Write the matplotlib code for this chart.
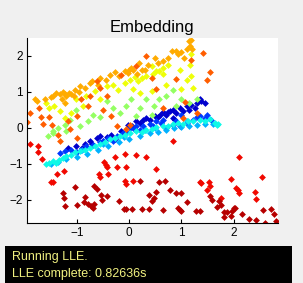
import matplotlib
matplotlib.use("Agg")
import matplotlib.pyplot as plt
from matplotlib.patches import Rectangle

# groups of points, each with one jet colour value
dark_blue_x = [-1.17, -1.02, -0.85, -0.75, -0.62, -0.56, -0.43, -0.50, -0.27, -0.15, -0.02, 0.14, 0.27, 0.33, 0.39,
               0.49, 0.59, 0.65, 0.71, 0.78, 0.84, 0.90, 0.97, 1.02, 1.10, 1.19, 1.29, 1.35, 1.38, 0.84, 0.87,
               -0.90, -0.70, -0.35, 0.05, 0.20, 0.55, 0.75, 1.15, 1.25, 1.45]
dark_blue_y = [-0.56, -0.51, -0.44, -0.37, -0.28, -0.23, -0.25, -0.37, -0.32, -0.09, 0.09, 0.19, 0.23, 0.28, 0.21,
               0.32, 0.37, 0.44, 0.37, 0.46, 0.51, 0.42, 0.56, 0.46, 0.60, 0.65, 0.69, 0.79, 0.74, 0.28, 0.23,
               -0.55, -0.45, -0.20, 0.05, 0.15, 0.30, 0.45, 0.50, 0.55, 0.70]

blue_x = [-1.32, -1.23, -1.10, -0.91, -0.82, -0.69, -0.56, -0.40, -0.24, -0.11, 0.01, 0.14, 0.27, 0.39, 0.52,
          0.65, 0.71, 0.84, 0.97, 1.10, 1.22, 1.35, 1.48, 1.57, 0.45, 0.20, -0.05, -0.30,
          -1.00, -0.50, 0.10, 0.60, 0.90, 1.30, 1.45, 1.00]
blue_y = [-0.69, -0.65, -0.60, -0.60, -0.51, -0.48, -0.40, -0.28, -0.23, -0.14, 0.00, 0.05, 0.05, 0.12, 0.19,
          0.23, 0.00, 0.09, 0.05, 0.14, 0.23, 0.32, 0.37, 0.23, 0.05, -0.05, -0.10, -0.35,
          -0.68, -0.35, -0.03, 0.15, 0.20, 0.30, 0.28, 0.35]

light_blue_x = [-1.50, -1.35, -1.20, -1.00, -0.80, -0.60, -0.40, -0.20, 0.00, 0.20, 0.40, 0.55, 0.70, 0.85, 1.00,
                1.15, 1.30, 1.45, 1.60, 1.10, 0.50, 0.30, -0.10, -0.50, -0.90]
light_blue_y = [-1.00, -0.95, -0.85, -0.80, -0.72, -0.62, -0.50, -0.40, -0.30, -0.22, -0.15, -0.12, -0.05, 0.00, 0.02,
                0.05, 0.08, 0.10, 0.12, 0.18, 0.00, -0.05, -0.25, -0.45, -0.62]

cyan_x = [-1.58, -1.52, -1.45, -1.40, -1.34, -1.26, -1.20, -1.10, -1.04, -0.94, -0.85, -0.75, -0.66, -0.56, -0.46,
          -0.37, -0.27, -0.18, -0.08, 0.01, 0.14, 0.24, 0.33, 0.43, 0.52, 0.65, 0.75, 0.84, 0.94, 1.03, 1.13,
          1.22, 1.35, 1.45, 1.54, 1.64, 1.70, 1.67]
cyan_y = [-0.99, -0.97, -0.93, -0.97, -0.88, -0.83, -0.77, -0.74, -0.68, -0.65, -0.62, -0.56, -0.51, -0.44, -0.40,
          -0.32, -0.28, -0.23, -0.19, -0.14, -0.09, -0.12, -0.05, -0.03, 0.02, 0.05, 0.06, 0.12, 0.14, 0.12, 0.19,
          0.19, 0.23, 0.19, 0.25, 0.15, 0.12, 0.09]

green_x = [-1.55, -1.45, -1.36, -1.23, -1.13, -0.94, -0.78, -0.69, -0.56, -0.43, -0.31, -0.18, -0.05, 0.04, 0.20,
           0.33, 0.47, 0.57, 0.71, 0.84, 1.00, 1.15, 1.29, -1.01, -1.20, 0.14, 0.43, 0.90, -1.46]
green_y = [-0.23, -0.14, 0.00, 0.09, 0.23, 0.05, 0.19, 0.37, 0.31, 0.74, 0.56, 0.42, 0.60, 0.79, 0.56,
           0.79, 0.60, 0.79, 0.88, 1.06, 0.79, 0.69, 0.81, 0.51, -0.09, 0.32, 0.37, 0.60, -0.09]

yellow_x = [-1.58, -1.52, -1.43, -1.32, -1.23, -1.10, -1.01, -0.88, -0.82, -0.66, -0.56, -0.43, -0.31, -0.21, -0.08,
            0.01, 0.11, 0.17, 0.24, 0.33, 0.46, 0.57, 0.65, 0.64, 0.43, 0.52, 0.75, 0.97, 1.10, 1.19, 1.16,
            1.19, 1.22, 0.08, 0.20, 0.43, 0.71, 1.00]
yellow_y = [0.69, 0.56, 0.60, 0.46, 0.28, 0.42, 0.79, 0.60, 0.88, 1.02, 0.79, 1.16, 1.20, 1.06, 1.25,
            1.34, 1.42, 1.30, 1.39, 1.45, 1.51, 1.57, 1.51, 1.67, 1.71, 1.57, 1.76, 1.62, 1.34, 1.43, 1.76,
            2.04, 1.11, 1.08, 0.97, 1.02, 1.20, 1.08]

orange_x = [-1.80, -1.76, -1.45, -1.39, -1.32, -1.27, -1.23, -1.20, -1.15, -1.10, -1.29, -1.23, -1.04, -0.94, -0.85,
            -0.74, -0.70, -0.56, -0.45, -0.37, -0.27, -0.08, -0.02, 0.04, 0.08, 0.19, 0.24, 0.36, 0.49, 0.65,
            0.81, 0.94, 1.10, 1.15, 1.19, 1.16, -1.50, -1.60, -1.05, -0.95, -0.60, -0.20, 0.00, 0.15, 0.30,
            0.55, 0.75, 1.00, 1.05, 1.20, 0.90]
orange_y = [0.81, 0.74, 0.88, 0.97, 0.93, 0.99, 0.95, 0.88, 0.97, 0.93, 0.79, 0.69, 1.06, 1.16, 1.11,
            1.25, 1.30, 1.39, 1.34, 1.48, 1.55, 1.57, 1.53, 1.67, 1.62, 1.79, 1.62, 1.76, 1.94, 1.85,
            2.13, 2.04, 2.18, 2.41, 2.45, 2.27, 0.85, 0.80, 0.90, 1.00, 1.20, 1.45, 1.60, 1.50, 1.60,
            1.80, 1.95, 2.10, 1.95, 2.20, 2.15]

red_orange_x = [-1.90, -1.95, -1.72, -1.68, -1.64, -1.52, -1.47, -1.36, -1.31, -1.17, -1.12, -1.00, -0.99, -0.91,
                -0.78, -0.75, -0.62, -0.56, -0.50, -0.43, -0.24, -0.34, -0.15, -0.06, 0.01, 0.14, 0.33, 0.43,
                0.52, 0.65, 0.90, 1.02, 1.06, 1.19, 1.29, 1.41, 1.48, 1.54]
red_orange_y = [0.42, 0.16, 0.56, 0.31, 0.12, 0.31, 0.09, -0.19, -0.37, 0.19, -0.03, 0.32, -0.28, 0.79,
                0.62, 0.88, 1.30, 1.11, 0.51, 0.88, 0.05, 0.32, 1.48, -0.03, 0.09, 1.71, 1.99, 1.39,
                1.08, 0.56, 1.36, 0.28, 0.71, 1.90, 0.42, 2.08, 1.34, 1.55]

red_x = [-1.90, -1.73, -1.73, -1.66, -1.37, -1.25, -0.48, -0.44, -0.42, -0.27, -0.07, 0.14, 0.33, 0.84, 2.10,
         -0.57, -0.56, -0.40, -0.24, -0.06, -0.08, -0.05, 0.08, 0.52, 1.35, 1.38, 1.53, 1.54, 2.53, 2.05,
         2.08, 2.10, 1.94, 2.40, 2.42, 1.48, 1.75, -1.50, -1.45]
red_y = [-0.44, -0.51, -0.67, -0.86, -1.29, -1.19, -0.95, -1.03, -1.08, -0.82, -0.73, -0.74, -0.81, -0.37, -0.81,
         -1.28, -1.36, -1.27, -1.08, -1.09, -1.48, -1.55, -1.48, -1.14, -1.51, -1.53, -1.51, -1.60, -1.36, -1.67,
         -1.73, -1.81, -1.42, -1.79, -1.98, -1.71, -1.94, -1.51, -1.51]

dark_red_x = [-1.27, -1.25, -1.23, -1.04, -0.99, -0.85, -0.86, -0.78, -0.72, -0.69, -0.67, -0.67, -0.62, -0.53,
              -0.51, -0.43, -0.19, -0.10, -0.06, 0.06, 0.20, 0.25, 0.38, 0.38, 0.43, 0.47, 0.52, 0.57, 0.64,
              0.68, 0.78, 0.89, 0.94, 0.97, 1.00, 1.00, 1.11, 1.27, 1.35, 1.54, 1.59, 1.67, 1.71, 1.75, 1.81,
              1.82, 1.86, 1.94, 1.97, 2.00, 2.02, 2.15, 2.28, 2.42, 2.55, 2.59, 2.70, 2.76, 2.80]
dark_red_y = [-1.82, -1.95, -2.16, -1.64, -2.13, -1.93, -2.06, -2.10, -2.16, -2.22, -2.10, -1.62, -1.69, -1.85,
              -1.99, -1.90, -2.04, -2.24, -2.24, -2.24, -1.48, -2.25, -1.85, -2.25, -2.04, -1.94, -1.79, -1.50, -2.29,
              -1.48, -1.71, -1.80, -2.22, -2.27, -2.30, -1.80, -2.06, -2.30, -2.30, -1.90, -1.99, -2.19, -2.04, -2.13, -2.34,
              -2.47, -2.34, -2.44, -2.31, -2.22, -2.22, -2.39, -2.53, -2.55, -2.27, -2.64, -2.25, -2.39, -2.59]

groups = [
    (dark_blue_x, dark_blue_y, 0.07),
    (blue_x, blue_y, 0.18),
    (light_blue_x, light_blue_y, 0.30),
    (cyan_x, cyan_y, 0.37),
    (green_x, green_y, 0.53),
    (yellow_x, yellow_y, 0.64),
    (orange_x, orange_y, 0.73),
    (red_orange_x, red_orange_y, 0.81),
    (red_x, red_y, 0.90),
    (dark_red_x, dark_red_y, 0.95),
]

plt.rcParams["font.family"] = ["Liberation Sans", "DejaVu Sans"]

fig = plt.figure(figsize=(3.03, 2.83), dpi=100, facecolor="#f0f0f0")
ax = fig.add_axes([0.089, 0.212, 0.828, 0.654])
cmap = plt.get_cmap("jet")
for gx, gy, cv in groups:
    ax.scatter(gx, gy, s=12, marker="D", color=cmap(cv), linewidths=0, zorder=2)

ax.set_xlim(-1.95, 2.84)
ax.set_ylim(-2.64, 2.5)
ax.set_xticks([-1, 0, 1, 2])
ax.set_yticks([-2, -1, 0, 1, 2])
ax.spines["top"].set_visible(False)
ax.spines["right"].set_visible(False)
ax.tick_params(direction="in", length=3, labelsize=8.5, pad=3)
ax.set_title("Embedding", fontsize=12, pad=4)

# status box at the bottom
fig.patches.append(Rectangle((5 / 303, 0), 287 / 303, 37 / 283, transform=fig.transFigure,
                             facecolor="black", edgecolor="none"))
fig.text(12 / 303, 1 - 257 / 283, "Running LLE.", color="#f0f080", fontsize=9, va="center")
fig.text(12 / 303, 1 - 274 / 283, "LLE complete: 0.82636s", color="#f0f080", fontsize=9, va="center")

fig.savefig("out.png", dpi=100, facecolor=fig.get_facecolor())
